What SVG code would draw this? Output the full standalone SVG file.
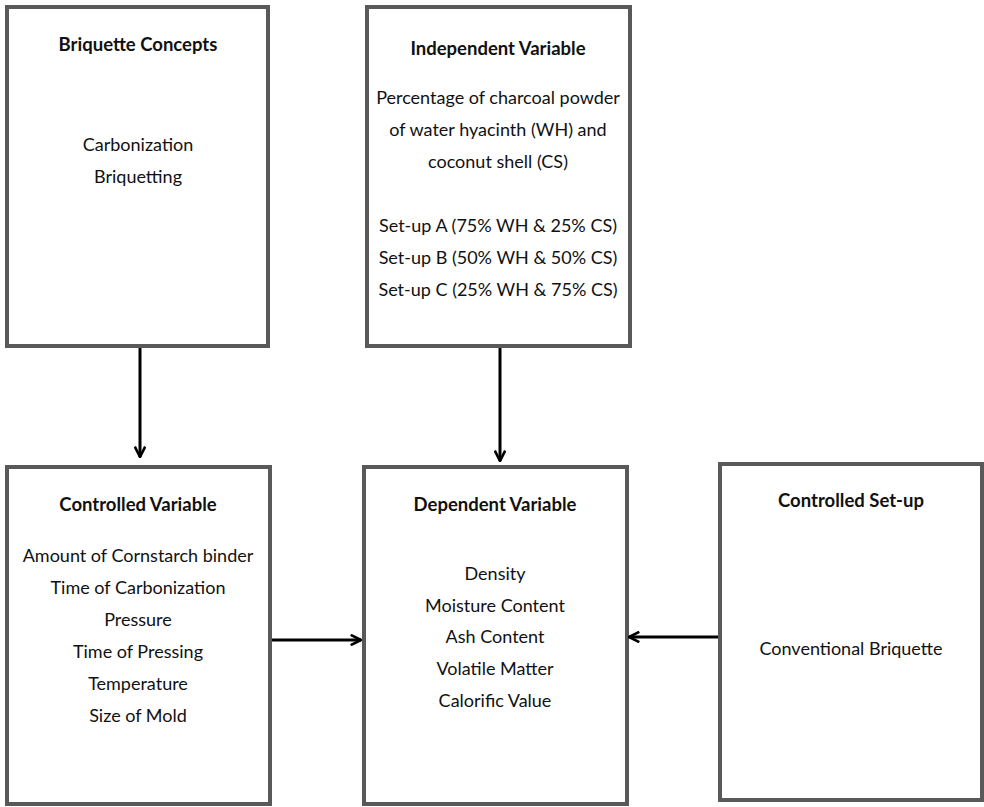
<svg xmlns="http://www.w3.org/2000/svg" width="984" height="807" viewBox="0 0 984 807">
<style>
.box{fill:#fff;stroke:#595959;stroke-width:4}
.t{font-family:Lato,"Liberation Sans",sans-serif;font-size:18px;fill:#111;text-anchor:middle}
.h{font-weight:bold;font-size:18.5px}
.c{stroke:#000;stroke-width:3;fill:none}
</style>
<defs>
<marker id="ah" viewBox="0 0 10 10" refX="9" refY="5" markerWidth="4.3" markerHeight="4.3" orient="auto" markerUnits="strokeWidth">
<path d="M1,1 L9,5 L1,9" fill="none" stroke="#000" stroke-width="2"/>
</marker>
</defs>
<rect width="984" height="807" fill="#fff"/>
<g id="briquette-concepts">
<rect class="box" x="7" y="7" width="261" height="339"/>
<text class="t h" x="138" y="51">Briquette Concepts</text>
<text class="t" x="138" y="151">Carbonization</text>
<text class="t" x="138" y="183">Briquetting</text>
</g>
<g id="independent-variable">
<rect class="box" x="367" y="7" width="263" height="339"/>
<text class="t h" x="498" y="55">Independent Variable</text>
<text class="t" x="498" y="104">Percentage of charcoal powder</text>
<text class="t" x="498" y="136">of water hyacinth (WH) and</text>
<text class="t" x="498" y="168">coconut shell (CS)</text>
<text class="t" x="498" y="232">Set-up A (75% WH &amp; 25% CS)</text>
<text class="t" x="498" y="264">Set-up B (50% WH &amp; 50% CS)</text>
<text class="t" x="498" y="296">Set-up C (25% WH &amp; 75% CS)</text>
</g>
<g id="controlled-variable">
<rect class="box" x="7" y="467" width="263" height="337"/>
<text class="t h" x="138" y="511">Controlled Variable</text>
<text class="t" x="138" y="562">Amount of Cornstarch binder</text>
<text class="t" x="138" y="594">Time of Carbonization</text>
<text class="t" x="138" y="626">Pressure</text>
<text class="t" x="138" y="658">Time of Pressing</text>
<text class="t" x="138" y="690">Temperature</text>
<text class="t" x="138" y="722">Size of Mold</text>
</g>
<g id="dependent-variable">
<rect class="box" x="364" y="467" width="263" height="337"/>
<text class="t h" x="495" y="511">Dependent Variable</text>
<text class="t" x="495" y="580">Density</text>
<text class="t" x="495" y="612">Moisture Content</text>
<text class="t" x="495" y="643">Ash Content</text>
<text class="t" x="495" y="675">Volatile Matter</text>
<text class="t" x="495" y="707">Calorific Value</text>
</g>
<g id="controlled-setup">
<rect class="box" x="720" y="464" width="262" height="336"/>
<text class="t h" x="851" y="507">Controlled Set-up</text>
<text class="t" x="851" y="655">Conventional Briquette</text>
</g>
<g id="connectors">
<line class="c" x1="140" y1="348" x2="140" y2="457" marker-end="url(#ah)"/>
<line class="c" x1="500" y1="348" x2="500" y2="461" marker-end="url(#ah)"/>
<line class="c" x1="272" y1="640" x2="361" y2="640" marker-end="url(#ah)"/>
<line class="c" x1="718" y1="637" x2="629" y2="637" marker-end="url(#ah)"/>
</g>
</svg>
